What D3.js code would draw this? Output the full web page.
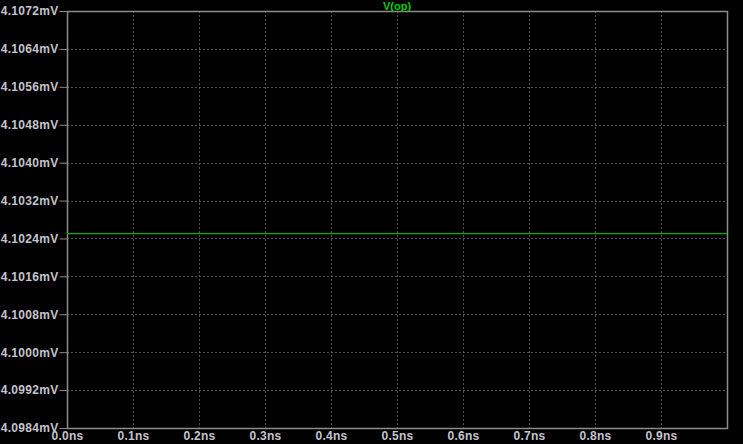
<!DOCTYPE html>
<html><head><meta charset="utf-8">
<script src="https://cdn.jsdelivr.net/npm/d3@7"></script>
<style>html,body{margin:0;padding:0;background:#000;}svg{display:block;}</style>
</head><body>
<script>
const times = [0, 1.0];           // ns
const values = [4.10250, 4.10250]; // mV
const yTicks = [4.0984,4.0992,4.1000,4.1008,4.1016,4.1024,4.1032,4.1040,4.1048,4.1056,4.1064,4.1072];
const xTicks = [0,0.1,0.2,0.3,0.4,0.5,0.6,0.7,0.8,0.9];
const traceName = "V(op)";

const W=743,H=444;
const m={left:67,right:16,top:11,bottom:16};
const svg=d3.select("body").append("svg").attr("width",W).attr("height",H).style("background","#000");
const x=d3.scaleLinear().domain([0,1]).range([m.left,W-m.right]);
const y=d3.scaleLinear().domain([4.0984,4.1072]).range([H-m.bottom,m.top]);
const gridC="#555555", axC="#8c8c8c", txtC="#c4c4cc";
const font="bold 12px 'Liberation Sans', Arial, sans-serif";

// grid
svg.append("g").selectAll("line").data(yTicks.slice(1,-1)).join("line")
 .attr("x1",m.left).attr("x2",W-m.right).attr("y1",d=>Math.round(y(d))+0.5).attr("y2",d=>Math.round(y(d))+0.5)
 .attr("stroke",gridC).attr("stroke-width",1).attr("stroke-dasharray","2,2");
svg.append("g").selectAll("line").data(xTicks.slice(1)).join("line")
 .attr("y1",m.top).attr("y2",H-m.bottom).attr("x1",d=>Math.round(x(d))+0.5).attr("x2",d=>Math.round(x(d))+0.5)
 .attr("stroke",gridC).attr("stroke-width",1).attr("stroke-dasharray","2,2");

// frame
svg.append("rect").attr("x",m.left+0.5).attr("y",m.top+0.5).attr("width",W-m.right-m.left).attr("height",H-m.bottom-m.top)
 .attr("fill","none").attr("stroke",axC).attr("stroke-width",1.5);

// axes
const yAxis=d3.axisLeft(y).tickValues(yTicks).tickFormat(d=>d.toFixed(4)+"mV").tickSize(8).tickPadding(1);
const gy=svg.append("g").attr("transform",`translate(${m.left+0.5},0)`).call(yAxis);
gy.select(".domain").remove();
gy.selectAll("line").attr("stroke",axC);
gy.selectAll("text").attr("fill",txtC).style("font",font).style("letter-spacing","0.3px");

const xAxis=d3.axisBottom(x).tickValues(xTicks).tickFormat(d=>d.toFixed(1)+"ns").tickSize(0).tickPadding(3);
const gx=svg.append("g").attr("transform",`translate(0,${H-m.bottom+0.5})`).call(xAxis);
gx.select(".domain").remove();
gx.selectAll("text").attr("fill",txtC).style("font",font).style("letter-spacing","0.3px");

// trace
const line=d3.line().x((d,i)=>x(times[i])).y(d=>y(d));
svg.append("path").datum(values).attr("d",line).attr("fill","none").attr("stroke","#00b000").attr("stroke-width",1.3);

// title
svg.append("text").attr("x",(m.left+W-m.right)/2).attr("y",9.5).attr("text-anchor","middle")
 .attr("fill","#00d000").style("font","bold 11px 'Liberation Sans', Arial, sans-serif").text(traceName);
</script>
</body></html>
